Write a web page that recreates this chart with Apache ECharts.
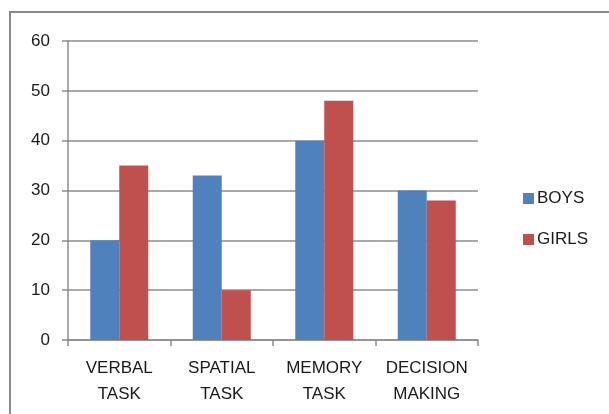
<!DOCTYPE html>
<html>
<head>
<meta charset="utf-8">
<script src="https://cdn.jsdelivr.net/npm/echarts@6/dist/echarts.min.js"></script>
<style>
  html, body { margin: 0; padding: 0; background: #fff; }
  #chart { width: 609px; height: 414px; }
</style>
</head>
<body>
<div id="chart"></div>
<script>
// Task categories and scores per group
const categories = ['VERBAL\nTASK', 'SPATIAL\nTASK', 'MEMORY\nTASK', 'DECISION\nMAKING'];
const boys = [20, 33, 40, 30];
const girls = [35, 10, 48, 28];
const seriesNames = ['BOYS', 'GIRLS'];

const font = '"Liberation Sans", Arial, sans-serif';
const textColor = '#1a1a1a';
const lineColor = '#8c8c8c';

const chart = echarts.init(document.getElementById('chart'), null, { renderer: 'canvas' });
chart.setOption({
  animation: false,
  backgroundColor: '#fff',
  graphic: [{
    type: 'rect',
    shape: { x: 10, y: 12, width: 620, height: 430 },
    style: { fill: 'none', stroke: '#8a8a8a', lineWidth: 2 },
    silent: true
  }],
  grid: { left: 68, top: 41, right: 131, bottom: 74, containLabel: false },
  legend: {
    orient: 'vertical',
    left: 518,
    top: 185,
    itemWidth: 11,
    itemHeight: 11,
    itemGap: 24,
    icon: 'rect',
    textStyle: { fontFamily: font, fontSize: 17, color: textColor, padding: [0, 0, 0, -2] },
    data: seriesNames
  },
  xAxis: {
    type: 'category',
    data: categories,
    axisLine: { lineStyle: { color: lineColor, width: 1.5 } },
    axisTick: { show: true, length: 6, lineStyle: { color: lineColor, width: 1.5 } },
    axisLabel: {
      fontFamily: font, fontSize: 17, color: textColor,
      lineHeight: 26, margin: 15, interval: 0
    }
  },
  yAxis: {
    type: 'value',
    min: 0, max: 60, interval: 10,
    axisLine: { show: true, lineStyle: { color: lineColor, width: 1.5 } },
    axisTick: { show: true, length: 6, lineStyle: { color: lineColor, width: 1.5 } },
    splitLine: { lineStyle: { color: lineColor, width: 1.5 } },
    axisLabel: { fontFamily: font, fontSize: 17, color: textColor, margin: 18 }
  },
  series: [
    {
      name: seriesNames[0], type: 'bar', data: boys,
      barWidth: 29, barGap: '0%', barCategoryGap: '43%',
      itemStyle: { color: '#4F81BD' }
    },
    {
      name: seriesNames[1], type: 'bar', data: girls,
      barWidth: 29, barGap: '0%',
      itemStyle: { color: '#C0504D' }
    }
  ]
});
</script>
</body>
</html>
